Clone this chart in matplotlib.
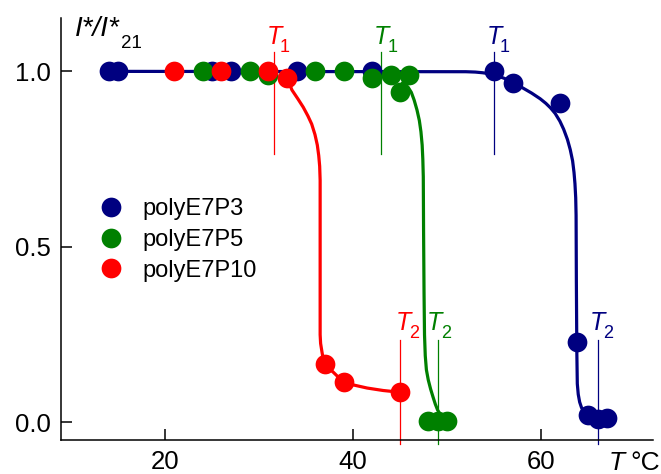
import matplotlib
matplotlib.use('Agg')
import matplotlib.pyplot as plt
from matplotlib.lines import Line2D
import matplotlib.transforms as mtransforms

plt.rcParams['font.family'] = ['Liberation Sans', 'DejaVu Sans']

# measured points
blue_x = [14, 15, 25, 27, 34, 42, 55, 57, 62, 63.8, 65, 66, 67]
blue_y = [1.0, 1.0, 1.0, 1.0, 1.0, 1.0, 1.0, 0.966, 0.91, 0.228, 0.02, 0.01, 0.012]

green_x = [24, 29, 31, 36, 39, 42, 44, 45, 46, 48, 49, 50]
green_y = [1.0, 1.0, 0.99, 1.0, 1.0, 0.98, 0.99, 0.94, 0.99, 0.005, 0.005, 0.005]

red_x = [21, 26, 31, 33, 37, 39, 45]
red_y = [1.0, 1.0, 1.0, 0.98, 0.167, 0.115, 0.086]

# fitted curves
blue_curve_x = [14, 52.0, 53.0, 53.8, 54.5, 55.2, 56.0, 57.0, 58.1, 59.0, 59.9, 60.5, 61.0,
                61.5, 62.0, 62.4, 62.8, 63.1, 63.35, 63.5, 63.6, 63.68, 63.72,
                63.75, 63.8, 63.85, 63.95, 64.1, 64.3, 64.55, 64.8, 65.5, 67]
blue_curve_y = [1.0, 0.999, 0.998, 0.996, 0.993, 0.988, 0.981, 0.970, 0.952, 0.938, 0.922,
                0.909, 0.896, 0.880, 0.858, 0.835, 0.806, 0.777, 0.745, 0.712, 0.680,
                0.640, 0.590, 0.40, 0.20, 0.110, 0.080, 0.058, 0.042, 0.032, 0.027, 0.022, 0.015]

green_curve_x = [45.3, 45.85, 46.2, 46.5, 46.8, 47.05, 47.22, 47.35, 47.42, 47.47, 47.5,
                 47.55, 47.6, 47.68, 47.8, 48.0, 48.25, 48.5, 48.75, 49.0, 49.4, 49.9]
green_curve_y = [0.968, 0.955, 0.940, 0.918, 0.890, 0.860, 0.828, 0.790, 0.750, 0.700, 0.548,
                 0.369, 0.250, 0.190, 0.150, 0.121, 0.095, 0.073, 0.052, 0.035, 0.018, 0.007]

red_curve_x = [33.0, 33.5, 34.15, 34.7, 35.2, 35.6, 35.95, 36.2, 36.35, 36.45, 36.5,
               36.5, 36.5, 36.55, 36.7, 36.9, 37.4, 37.9, 38.4, 38.94, 40.0, 41.5, 43.2, 45.0]
red_curve_y = [0.981, 0.947, 0.921, 0.898, 0.873, 0.850, 0.820, 0.790, 0.760, 0.730, 0.690,
               0.462, 0.250, 0.225, 0.200, 0.169, 0.155, 0.143, 0.130, 0.118, 0.107, 0.098,
               0.091, 0.086]

# transition temperatures
t1_vals = [31.6, 43, 55]
t2_vals = [45, 49, 66]
t2_label_shift = [0.35, -0.3, 0.0]

labels = ['polyE7P3', 'polyE7P5', 'polyE7P10']
colors = ['#000080', '#008000', '#FF0000']

fig = plt.figure(figsize=(6.61, 4.74), dpi=100)
ax = fig.add_axes([61 / 661, 34 / 474, 592 / 661, 422 / 474])

series = [
    (blue_x, blue_y, blue_curve_x, blue_curve_y),
    (green_x, green_y, green_curve_x, green_curve_y),
    (red_x, red_y, red_curve_x, red_curve_y),
]

# T1 / T2 marker lines (order: blue, green, red)
t_order = [2, 1, 0]
for i, c in enumerate(colors):
    j = t_order[i]
    ax.plot([t1_vals[j], t1_vals[j]], [0.765, 1.055], color=c, lw=0.9, zorder=1)
    ax.plot([t2_vals[j], t2_vals[j]], [-0.06, 0.234], color=c, lw=0.9, zorder=1,
            clip_on=False)

for (px, py, cx, cy), c in zip(series, colors):
    ax.plot(cx, cy, color=c, lw=2.3, zorder=2, solid_joinstyle='round')
    ax.plot(px, py, 'o', color=c, ms=14.2, mec='none', zorder=3)

# T labels
for i, c in enumerate(colors):
    j = t_order[i]
    for xv, yv, sub, shift in [(t1_vals[j], 1.077, '1', 0.0),
                               (t2_vals[j], 0.263, '2', t2_label_shift[j])]:
        ax.text(xv + shift, yv, 'T', color=c, fontsize=18, style='italic',
                ha='center', va='baseline')
        tr = mtransforms.offset_copy(ax.transData, fig=fig, x=6, y=-8, units='dots')
        ax.text(xv + shift, yv, sub, color=c, fontsize=13, ha='left', va='baseline',
                transform=tr)

ax.set_xlim(8.94, 71.9)
ax.set_ylim(-0.05, 1.152)
ax.set_xticks([20, 40, 60])
ax.set_yticks([0.0, 0.5, 1.0])
ax.set_yticklabels(['0.0', '0.5', '1.0'])
ax.tick_params(direction='in', length=8, width=1.1, labelsize=18.5, pad=7)
ax.spines['top'].set_visible(False)
ax.spines['right'].set_visible(False)
for s in ['left', 'bottom']:
    ax.spines[s].set_linewidth(1.1)

handles = [Line2D([], [], marker='o', ls='none', color=c, ms=14.2, mec='none') for c in colors]
ax.legend(handles, labels, loc='center left', bbox_to_anchor=(0.068, 0.474),
          frameon=False, fontsize=17, handlelength=0.85, handletextpad=0.9,
          borderpad=0, borderaxespad=0, labelspacing=0.37)

# axis titles
fig.text(75 / 661, 1 - 36 / 474, 'I*/I*', fontsize=20, style='italic', va='baseline')
fig.text(121 / 661, 1 - 48 / 474, '21', fontsize=13.5, va='baseline')
fig.text(609 / 661, 1 - 470 / 474, 'T', fontsize=19, style='italic', va='baseline')
fig.text(630 / 661, 1 - 470 / 474, '°C', fontsize=19, va='baseline')

fig.savefig('out.png', dpi=100)
